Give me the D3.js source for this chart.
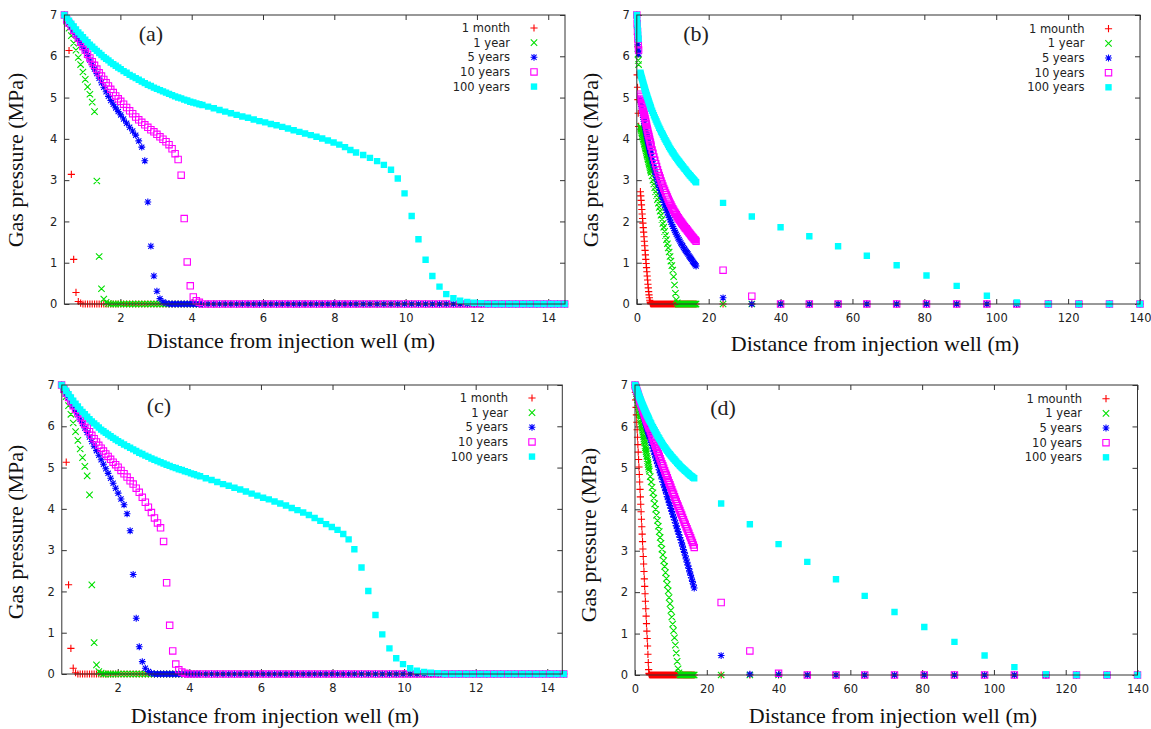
<!DOCTYPE html>
<html><head><meta charset="utf-8">
<script src="https://cdn.jsdelivr.net/npm/d3@7"></script>
<style>body{margin:0;background:#fff}svg{display:block}</style>
</head><body>
<svg id="chart" width="1151" height="729"></svg>
<script>
// ---------------- DATA ----------------
const legendMonth = ["1 month","1 year","5 years","10 years","100 years"];
const legendMounth = ["1 mounth","1 year","5 years","10 years","100 years"];
const yTickValues = [0,1,2,3,4,5,6,7];
const xTicksNear = [2,4,6,8,10,12,14];
const xTicksFar = [0,20,40,60,80,100,120,140];

// distance nodes (m), panels (a) and (c)
const meshAC = [0.43,0.495,0.56,0.625,0.69,0.755,0.82,0.885,0.95,1.015,
1.08,1.145,1.21,1.275,1.34,1.405,1.47,1.535,1.6,1.665,
1.73,1.8,1.87,1.94,2.01,2.09,2.175,2.26,2.345,2.43,
2.515,2.6,2.685,2.77,2.855,2.94,3.025,3.11,3.195,3.28,
3.365,3.45,3.535,3.62,3.705,3.79,3.875,3.96,4.045,4.13,
4.215,4.3,4.46,4.62,4.78,4.94,5.1,5.26,5.42,5.58,
5.74,5.9,6.06,6.22,6.38,6.54,6.7,6.86,7.02,7.18,
7.34,7.5,7.66,7.82,7.98,8.14,8.3,8.45,8.61,8.81,
9.0,9.2,9.39,9.59,9.78,9.97,10.17,10.36,10.56,10.75,
10.95,11.14,11.34,11.53,11.73,11.92,12.12,12.31,12.51,12.7,
12.9,13.09,13.29,13.48,13.68,13.87,14.07,14.26,14.46];

// distance nodes (m), panel (b)
const meshB = [0,0.1,0.2,0.3,0.4,0.5,
1,1.1,1.2,1.3,1.4,1.5,1.6,1.7,1.8,1.9,
2,2.1,2.2,2.3,2.4,2.5,2.6,2.7,2.8,2.9,
3,3.1,3.2,3.3,3.4,3.5,3.6,3.7,3.8,3.9,4,
4.25,4.5,4.75,5,5.25,5.5,5.75,6,6.25,6.5,
6.75,7,7.25,7.5,7.75,8,8.25,8.5,8.75,9,
9.25,9.5,9.75,10,10.25,10.5,10.75,11,11.25,11.5,
11.75,12,12.25,12.5,12.75,13,13.25,13.5,13.75,14,
14.25,14.5,14.75,15,15.25,15.5,15.75,16,16.25,16.5,
24,32,40,48,56,64,72.3,80.6,89,97.4,105.7,114.5,123,131.5,140];

// distance nodes (m), panel (d)
const meshD = [0,0.1,0.2,0.3,0.4,0.5,0.6,0.7,0.8,0.9,
1,1.1,1.2,1.3,1.4,1.5,1.6,1.7,1.8,1.9,
2,2.1,2.2,2.3,2.4,2.5,2.6,2.7,2.8,2.9,
3,3.1,3.2,3.3,3.4,3.5,3.6,3.7,3.8,3.9,4,
4.25,4.5,4.75,5,5.25,5.5,5.75,6,6.25,6.5,
6.75,7,7.25,7.5,7.75,8,8.25,8.5,8.75,9,
9.25,9.5,9.75,10,10.25,10.5,10.75,11,11.25,11.5,
11.75,12,12.25,12.5,12.75,13,13.25,13.5,13.75,14,
14.25,14.5,14.75,15,15.25,15.5,15.75,16,16.25,16.5,
24,32,40,48,56,64,72.3,80.6,89,97.4,105.7,114.5,123,131.5,140];

// ---- panel (a): gas pressure (MPa) ----
const aMonth = [7.0,6.9,6.14,3.14,1.08,0.28,0.06,0.02,
0,0,0,0,0,0,0,0,0,0, 0,0,0,0,0,0,0,0,0,0, 0,0,0,0,0,0,0,0,0,0, 0,0,0,0,0,0,0,0,0,0,
0,0,0,0,0,0,0,0,0,0, 0,0,0,0,0,0,0,0,0,0, 0,0,0,0,0,0,0,0,0,0, 0,0,0,0,0,0,0,0,0,0,
0,0,0,0,0,0,0,0,0,0, 0,0,0,0,0,0,0,0,0,0, 0];
const aYear1 = [7.0,6.85,6.68,6.5,6.32,6.15,5.97,5.8,5.62,5.44,
5.26,5.08,4.89,4.66,2.98,1.15,0.37,0.12,0.04,0.01,
0,0,0,0,0,0,0,0,0,0, 0,0,0,0,0,0,0,0,0,0, 0,0,0,0,0,0,0,0,0,0, 0,0,0,0,0,0,0,0,0,0,
0,0,0,0,0,0,0,0,0,0, 0,0,0,0,0,0,0,0,0,0, 0,0,0,0,0,0,0,0,0,0, 0,0,0,0,0,0,0,0,0,0,
0,0,0,0,0,0,0,0,0];
const aYears5 = [7.0,6.9,6.81,6.71,6.61,6.52,6.42,6.32,6.22,6.13,
6.02,5.91,5.8,5.69,5.58,5.47,5.36,5.25,5.14,5.03,
4.93,4.84,4.75,4.66,4.58,4.48,4.38,4.28,4.19,4.09,
3.95,3.8,3.47,2.47,1.4,0.68,0.31,0.13,0.05,0.02,
0,0,0,0,0,0,0,0,0,0, 0,0,0,0,0,0,0,0,0,0, 0,0,0,0,0,0,0,0,0,0, 0,0,0,0,0,0,0,0,0,0,
0,0,0,0,0,0,0,0,0,0, 0,0,0,0,0,0,0,0,0,0, 0,0,0,0,0,0,0,0,0];
const aYears10 = [7.0,6.88,6.8,6.72,6.63,6.54,6.44,6.34,6.24,6.15,
6.05,5.96,5.87,5.78,5.69,5.6,5.52,5.44,5.36,5.28,
5.2,5.12,5.04,4.97,4.91,4.84,4.76,4.68,4.61,4.53,
4.46,4.4,4.34,4.28,4.22,4.17,4.11,4.05,3.99,3.93,
3.86,3.76,3.64,3.5,3.12,2.07,1.02,0.44,0.17,0.08,
0.04,
0,0,0,0,0,0,0,0,0,0, 0,0,0,0,0,0,0,0,0,0, 0,0,0,0,0,0,0,0,0,0, 0,0,0,0,0,0,0,0,0,0,
0,0,0,0,0,0,0,0,0,0, 0,0,0,0,0,0,0,0];
const aYears100 = [7.0,6.93,6.86,6.79,6.72,6.65,6.58,6.52,6.46,6.4,
6.34,6.28,6.23,6.18,6.13,6.08,6.03,5.98,5.94,5.9,
5.85,5.81,5.77,5.73,5.69,5.64,5.6,5.55,5.51,5.47,
5.43,5.39,5.35,5.31,5.28,5.24,5.21,5.18,5.15,5.12,
5.09,5.06,5.03,5.0,4.98,4.95,4.93,4.9,4.88,4.86,
4.84,4.82,4.78,4.74,4.7,4.66,4.62,4.58,4.54,4.51,
4.47,4.43,4.4,4.36,4.33,4.29,4.25,4.21,4.17,4.13,
4.09,4.05,4.01,3.96,3.91,3.86,3.8,3.73,3.67,3.61,
3.54,3.46,3.37,3.25,3.04,2.68,2.13,1.57,1.07,0.68,
0.42,0.24,0.14,0.08,0.05,0.03,0.02,
0,0,0,0,0,0,0,0,0,0, 0,0];

// ---- panel (b) ----
const bMonth = [7.0,5.55,5.25,4.95,4.62,4.3,
2.72,2.62,2.51,2.4,2.29,2.18,2.07,1.96,1.85,1.74,
1.63,1.52,1.41,1.3,1.19,1.08,0.98,0.88,0.78,0.68,
0.58,0.48,0.39,0.3,0.22,0.15,0.09,0.05,0.02,0.01,0,
0,0,0,0,0,0,0,0,0,0, 0,0,0,0,0,0,0,0,0,0, 0,0,0,0,0,0,0,0,0,0, 0,0,0,0,0,0,0,0,0,0,
0,0,0,0,0,0,0,0,0,0, 0,0,0,0,0,0,0,0,0,0, 0,0,0,0,0];
const bYear1 = [7.0,6.6,6.3,6.05,5.9,5.8,
4.3,4.26,4.23,4.19,4.15,4.12,4.08,4.04,4.0,3.97,
3.93,3.89,3.86,3.82,3.78,3.75,3.71,3.67,3.63,3.6,
3.56,3.52,3.49,3.45,3.41,3.38,3.34,3.3,3.26,3.23,3.19,
3.1,3.0,2.91,2.82,2.72,2.63,2.53,2.44,2.34,2.25,
2.15,2.05,1.95,1.86,1.76,1.66,1.56,1.46,1.36,1.26,
1.15,1.04,0.93,0.82,0.66,0.46,0.26,0.1,0.03,
0,0,0,0,0,0,0,0,0,0, 0,0,0,0,0,0,0,0,0,0, 0,0,0,0,0,0,0,0,0,0, 0,0,0,0,0,0];
const bYears5 = [7.0,6.7,6.45,6.28,6.15,6.06,
4.95,4.89,4.84,4.78,4.73,4.68,4.63,4.57,4.52,4.47,
4.42,4.37,4.33,4.28,4.24,4.19,4.15,4.1,4.06,4.01,
3.97,3.93,3.89,3.85,3.81,3.77,3.73,3.69,3.66,3.62,3.58,
3.49,3.4,3.31,3.22,3.14,3.06,2.98,2.9,2.82,2.75,
2.67,2.6,2.53,2.46,2.4,2.33,2.27,2.21,2.15,2.09,
2.04,1.98,1.93,1.88,1.83,1.78,1.74,1.69,1.65,1.6,
1.56,1.52,1.48,1.44,1.41,1.37,1.34,1.3,1.27,1.24,
1.21,1.17,1.14,1.11,1.08,1.04,1.01,0.98,0.95,0.92,
0.15,0,0,0,0,0,0,0,0,0,0,0,0,0,0];
const bYears10 = [7.0,6.8,6.6,6.42,6.28,6.15,
5.08,5.03,4.98,4.94,4.89,4.85,4.8,4.75,4.71,4.66,
4.62,4.58,4.53,4.49,4.45,4.41,4.37,4.33,4.28,4.24,
4.2,4.16,4.12,4.09,4.05,4.01,3.97,3.93,3.9,3.86,3.82,
3.73,3.65,3.56,3.48,3.4,3.33,3.25,3.18,3.11,3.05,
2.98,2.92,2.86,2.8,2.75,2.69,2.64,2.59,2.54,2.49,
2.44,2.4,2.35,2.31,2.27,2.23,2.2,2.16,2.12,2.09,
2.05,2.02,1.99,1.96,1.93,1.9,1.87,1.84,1.82,1.79,
1.76,1.73,1.71,1.68,1.65,1.62,1.6,1.57,1.55,1.52,
0.82,0.19,0,0,0,0,0,0,0,0,0,0,0,0,0];
const bYears100 = [7.0,6.88,6.76,6.64,6.52,6.42,
5.6,5.57,5.53,5.5,5.47,5.44,5.41,5.37,5.34,5.31,
5.28,5.25,5.22,5.19,5.16,5.13,5.1,5.07,5.05,5.02,
4.99,4.96,4.94,4.91,4.88,4.86,4.83,4.81,4.78,4.76,4.73,
4.68,4.63,4.57,4.52,4.47,4.42,4.37,4.32,4.27,4.23,
4.18,4.14,4.1,4.05,4.01,3.97,3.93,3.89,3.85,3.81,
3.77,3.74,3.7,3.67,3.64,3.6,3.57,3.54,3.51,3.48,
3.45,3.42,3.39,3.37,3.34,3.31,3.28,3.26,3.23,3.2,
3.17,3.15,3.12,3.1,3.07,3.05,3.02,3.0,2.97,2.95,
2.45,2.12,1.86,1.64,1.4,1.17,0.94,0.69,0.44,0.2,0.04,0,0,0,0];

// ---- panel (c) ----
const cMonth = [7.0,6.9,5.13,2.16,0.62,0.14,0.03,
0,0,0,0,0,0,0,0,0,0, 0,0,0,0,0,0,0,0,0,0, 0,0,0,0,0,0,0,0,0,0, 0,0,0,0,0,0,0,0,0,0,
0,0,0,0,0,0,0,0,0,0, 0,0,0,0,0,0,0,0,0,0, 0,0,0,0,0,0,0,0,0,0, 0,0,0,0,0,0,0,0,0,0,
0,0,0,0,0,0,0,0,0,0, 0,0,0,0,0,0,0,0,0,0, 0,0];
const cYear1 = [7.0,6.88,6.72,6.5,6.29,6.08,5.87,5.66,5.45,5.24,
5.03,4.8,4.34,2.16,0.76,0.22,0.06,0.02,
0,0,0,0,0,0,0,0,0,0, 0,0,0,0,0,0,0,0,0,0, 0,0,0,0,0,0,0,0,0,0, 0,0,0,0,0,0,0,0,0,0,
0,0,0,0,0,0,0,0,0,0, 0,0,0,0,0,0,0,0,0,0, 0,0,0,0,0,0,0,0,0,0, 0,0,0,0,0,0,0,0,0,0,
0,0,0,0,0,0,0,0,0,0, 0];
const cYears5 = [7.0,6.9,6.8,6.7,6.59,6.49,6.38,6.28,6.17,6.07,
5.96,5.85,5.74,5.63,5.52,5.41,5.3,5.19,5.08,4.97,
4.86,4.74,4.62,4.5,4.38,4.24,4.1,3.88,3.47,2.41,
1.35,0.66,0.3,0.14,0.06,0.02,
0,0,0,0,0,0,0,0,0,0, 0,0,0,0,0,0,0,0,0,0, 0,0,0,0,0,0,0,0,0,0, 0,0,0,0,0,0,0,0,0,0,
0,0,0,0,0,0,0,0,0,0, 0,0,0,0,0,0,0,0,0,0, 0,0,0,0,0,0,0,0,0,0, 0,0,0];
const cYears10 = [7.0,6.9,6.8,6.7,6.6,6.5,6.41,6.32,6.23,6.14,
6.05,5.96,5.87,5.78,5.7,5.62,5.54,5.47,5.4,5.33,
5.27,5.2,5.13,5.07,5.01,4.93,4.85,4.77,4.68,4.6,
4.5,4.4,4.28,4.16,4.04,3.91,3.78,3.66,3.54,3.21,
2.21,1.18,0.56,0.24,0.1,0.05,0.02,
0,0,0,0,0,0,0,0,0,0, 0,0,0,0,0,0,0,0,0,0, 0,0,0,0,0,0,0,0,0,0, 0,0,0,0,0,0,0,0,0,0,
0,0,0,0,0,0,0,0,0,0, 0,0,0,0,0,0,0,0,0,0, 0,0];
const cYears100 = [7.0,6.93,6.86,6.78,6.7,6.62,6.55,6.48,6.41,6.35,
6.29,6.23,6.17,6.12,6.07,6.02,5.97,5.92,5.88,5.84,
5.8,5.76,5.72,5.68,5.64,5.6,5.56,5.52,5.48,5.44,
5.4,5.36,5.33,5.29,5.26,5.22,5.19,5.16,5.13,5.1,
5.07,5.04,5.01,4.99,4.96,4.94,4.91,4.89,4.86,4.84,
4.81,4.79,4.74,4.7,4.65,4.6,4.56,4.51,4.47,4.42,
4.37,4.32,4.27,4.23,4.18,4.13,4.08,4.02,3.97,3.91,
3.85,3.78,3.71,3.63,3.56,3.49,3.39,3.26,3.02,2.58,
2.01,1.43,0.96,0.62,0.38,0.24,0.14,0.08,0.05,0.03,
0.02,
0,0,0,0,0,0,0,0,0,0, 0,0,0,0,0,0,0,0];

// ---- panel (d) ----
const dMonth = [7.0,6.82,6.64,6.46,6.28,6.1,5.92,5.74,5.56,5.38,
5.2,5.02,4.84,4.66,4.48,4.3,4.12,3.94,3.76,3.58,
3.4,3.22,3.04,2.86,2.68,2.5,2.32,2.14,1.96,1.78,
1.6,1.42,1.24,1.06,0.88,0.7,0.5,0.3,0.13,0.04,
0.01,
0,0,0,0,0,0,0,0,0,0, 0,0,0,0,0,0,0,0,0,0, 0,0,0,0,0,0,0,0,0,0, 0,0,0,0,0,0,0,0,0,0,
0,0,0,0,0,0,0,0,0,0, 0,0,0,0,0,0,0,0,0,0, 0,0,0,0,0];
const dYear1 = [7.0,6.95,6.9,6.84,6.79,6.74,6.69,6.64,6.58,6.53,
6.48,6.43,6.38,6.32,6.27,6.22,6.17,6.12,6.06,6.01,
5.96,5.91,5.86,5.8,5.75,5.7,5.65,5.6,5.54,5.49,
5.44,5.39,5.34,5.28,5.23,5.18,5.13,5.08,5.02,4.97,
4.92,
4.79,4.66,4.53,4.4,4.27,4.13,4.0,3.86,3.73,3.59,
3.46,3.32,3.18,3.04,2.9,2.76,2.62,2.47,2.33,2.18,
2.03,1.87,1.72,1.56,1.4,1.23,1.07,0.9,0.72,0.53,
0.33,0.15,0.05,0.01,
0,0,0,0,0,0,0,0,0,0, 0,0,0,0,0,0,0,0,0,0, 0,0,0,0,0,0,0,0,0,0, 0];
const dYears5 = [7.0,6.97,6.94,6.9,6.87,6.84,6.81,6.78,6.74,6.71,
6.68,6.65,6.62,6.58,6.55,6.52,6.49,6.46,6.43,6.4,
6.37,6.34,6.31,6.28,6.25,6.22,6.19,6.16,6.13,6.1,
6.06,6.03,6.0,5.97,5.94,5.91,5.88,5.85,5.82,5.79,
5.76,
5.69,5.61,5.54,5.46,5.39,5.32,5.24,5.17,5.1,5.02,
4.95,4.88,4.81,4.73,4.66,4.59,4.52,4.45,4.37,4.3,
4.23,4.16,4.09,4.02,3.95,3.88,3.81,3.74,3.67,3.6,
3.53,3.46,3.39,3.32,3.26,3.19,3.11,3.03,2.96,2.88,
2.8,2.72,2.65,2.57,2.49,2.41,2.34,2.26,2.18,2.1,
0.47,0.02,0.01,0,0,0,0,0,0,0,0,0,0,0,0];
const dYears10 = [7.0,6.97,6.95,6.92,6.89,6.86,6.84,6.81,6.78,6.75,
6.72,6.69,6.67,6.64,6.61,6.59,6.56,6.53,6.51,6.48,
6.46,6.43,6.4,6.38,6.35,6.33,6.3,6.27,6.25,6.22,
6.2,6.17,6.15,6.12,6.1,6.07,6.05,6.02,6.0,5.97,
5.95,
5.89,5.83,5.76,5.7,5.64,5.58,5.52,5.46,5.4,5.34,
5.28,5.22,5.16,5.1,5.05,4.99,4.93,4.87,4.82,4.76,
4.7,4.64,4.59,4.53,4.47,4.41,4.36,4.3,4.24,4.19,
4.13,4.08,4.02,3.97,3.91,3.86,3.8,3.75,3.69,3.64,
3.58,3.53,3.47,3.42,3.36,3.31,3.25,3.2,3.14,3.08,
1.75,0.58,0.04,0,0,0,0,0,0,0,0,0,0,0,0];
const dYears100 = [7.0,6.98,6.95,6.93,6.9,6.88,6.86,6.83,6.81,6.78,
6.76,6.74,6.72,6.69,6.67,6.65,6.63,6.61,6.58,6.56,
6.54,6.52,6.5,6.48,6.46,6.44,6.42,6.4,6.38,6.36,
6.34,6.32,6.3,6.28,6.26,6.25,6.23,6.21,6.19,6.17,
6.15,
6.11,6.07,6.02,5.98,5.94,5.9,5.86,5.82,5.78,5.74,
5.71,5.67,5.63,5.6,5.56,5.53,5.5,5.47,5.44,5.41,
5.38,5.35,5.33,5.3,5.27,5.25,5.22,5.2,5.17,5.15,
5.12,5.1,5.08,5.05,5.03,5.01,4.99,4.97,4.95,4.93,
4.91,4.89,4.87,4.85,4.83,4.81,4.8,4.78,4.76,4.75,
4.14,3.64,3.16,2.73,2.31,1.91,1.52,1.16,0.8,0.47,0.19,0.02,0,0,0];

// ---------------- STYLE / LAYOUT ----------------
const colors = ["#ff0000","#00e000","#0000ff","#ff00ff","#00ffff"];
const kinds = ["plus","cross","star","open","filled"];
const SERIF = "'Liberation Serif','Times New Roman',serif";
const SANS = "'DejaVu Sans',sans-serif";

const panels = [
 {id:"(a)", mesh:meshAC, series:[aMonth,aYear1,aYears5,aYears10,aYears100], legend:legendMonth,
  left:64.4,right:565,top:15,bottom:304, xDomain:[0.43,14.47], xTicks:xTicksNear,
  ytX:23,ytY:160, xtX:291,xtY:348, labX:151,labY:41, legR:510,legM:534,legY:28},
 {id:"(b)", mesh:meshB, series:[bMonth,bYear1,bYears5,bYears10,bYears100], legend:legendMounth,
  left:636.8,right:1140,top:15,bottom:304, xDomain:[0,140], xTicks:xTicksFar,
  ytX:598,ytY:160, xtX:875,xtY:351, labX:696,labY:41, legR:1084.5,legM:1108.5,legY:28.7},
 {id:"(c)", mesh:meshAC, series:[cMonth,cYear1,cYears5,cYears10,cYears100], legend:legendMonth,
  left:61.8,right:562.3,top:385,bottom:674, xDomain:[0.436,14.42], xTicks:xTicksNear,
  ytX:23,ytY:532, xtX:275,xtY:723, labX:159,labY:413, legR:508,legM:532,legY:398},
 {id:"(d)", mesh:meshD, series:[dMonth,dYear1,dYears5,dYears10,dYears100], legend:legendMounth,
  left:635,right:1137.5,top:385,bottom:675, xDomain:[0,140], xTicks:xTicksFar,
  ytX:596,ytY:535, xtX:893,xtY:723, labX:723,labY:415, legR:1082,legM:1106,legY:398.7}
];

const svg = d3.select("#chart");
svg.append("rect").attr("width",1151).attr("height",729).attr("fill","#fff");

function markerPath(kind, cx, cy){
  const r = 3.2;
  if(kind==="plus") return `M${cx-3.6},${cy}H${cx+3.6}M${cx},${cy-3.6}V${cy+3.6}`;
  if(kind==="cross") return `M${cx-r},${cy-r}L${cx+r},${cy+r}M${cx-r},${cy+r}L${cx+r},${cy-r}`;
  if(kind==="star") return `M${cx-3.4},${cy}H${cx+3.4}M${cx},${cy-3.4}V${cy+3.4}M${cx-2.6},${cy-2.6}L${cx+2.6},${cy+2.6}M${cx-2.6},${cy+2.6}L${cx+2.6},${cy-2.6}`;
  return `M${cx-r},${cy-r}h${2*r}v${2*r}h${-2*r}Z`;
}
function styleMarker(sel, kind, color){
  if(kind==="filled") sel.attr("fill",color).attr("stroke","none");
  else sel.attr("fill","none").attr("stroke",color).attr("stroke-width",1.1);
}

const problems = [];
panels.forEach(p=>{
  const x = d3.scaleLinear().domain(p.xDomain).range([p.left,p.right]);
  const y = d3.scaleLinear().domain([0,7]).range([p.bottom,p.top]);
  const g = svg.append("g");

  // axes (inward ticks, mirrored)
  const fmt = d3.format("d");
  const gl = g.append("g").attr("transform",`translate(${p.left},0)`)
    .call(d3.axisLeft(y).tickValues(yTickValues).tickSizeInner(-5).tickSizeOuter(0).tickPadding(7).tickFormat(fmt));
  const gr = g.append("g").attr("transform",`translate(${p.right},0)`)
    .call(d3.axisRight(y).tickValues(yTickValues).tickSizeInner(-5).tickSizeOuter(0).tickFormat(""));
  const gb = g.append("g").attr("transform",`translate(0,${p.bottom})`)
    .call(d3.axisBottom(x).tickValues(p.xTicks).tickSizeInner(-5).tickSizeOuter(0).tickPadding(10).tickFormat(fmt));
  const gt = g.append("g").attr("transform",`translate(0,${p.top})`)
    .call(d3.axisTop(x).tickValues(p.xTicks).tickSizeInner(-5).tickSizeOuter(0).tickFormat(""));
  [gl,gr,gb,gt].forEach(a=>{
    a.attr("font-family",SANS).attr("font-size",11.5);
    a.select(".domain").remove();
    a.selectAll(".tick line").attr("stroke","#333").attr("stroke-width",1);
    a.selectAll(".tick text").attr("fill","#222");
  });

  // data markers
  const dataG = g.append("g");
  p.series.forEach((vals,si)=>{
    if(vals.length!==p.mesh.length) problems.push(`${p.id} series ${si}: ${vals.length} vs ${p.mesh.length}`);
    const pts = p.mesh.map((xv,i)=>[xv, vals[i]]).filter(d=>d[1]!==undefined);
    const d = pts.map(pt=>markerPath(kinds[si], x(pt[0]), y(pt[1]))).join("");
    dataG.append("path").attr("d",d).call(styleMarker, kinds[si], colors[si]);
  });

  // frame
  g.append("rect").attr("x",p.left).attr("y",p.top)
    .attr("width",p.right-p.left).attr("height",p.bottom-p.top)
    .attr("fill","none").attr("stroke","#333").attr("stroke-width",1);

  // legend
  const lg = g.append("g");
  p.legend.forEach((lab,i)=>{
    const cy = p.legY + i*14.65;
    lg.append("text").attr("x",p.legR).attr("y",cy+4).attr("text-anchor","end")
      .attr("font-family",SANS).attr("font-size",11.5).attr("fill","#222").text(lab);
    lg.append("path").attr("d",markerPath(kinds[i],p.legM,cy)).call(styleMarker,kinds[i],colors[i]);
  });

  // panel label
  g.append("text").attr("x",p.labX).attr("y",p.labY).attr("text-anchor","middle")
    .attr("font-family",SERIF).attr("font-size",22).attr("fill","#222").text(p.id);

  // axis titles
  g.append("text").attr("transform",`translate(${p.ytX},${p.ytY}) rotate(-90)`)
    .attr("text-anchor","middle").attr("font-family",SERIF).attr("font-size",22).attr("fill","#111")
    .text("Gas pressure (MPa)");
  g.append("text").attr("x",p.xtX).attr("y",p.xtY).attr("text-anchor","middle")
    .attr("font-family",SERIF).attr("font-size",22).attr("fill","#111")
    .text("Distance from injection well (m)");
});
if(problems.length) throw new Error("Length mismatch: "+problems.join("; "));
</script>
</body></html>
